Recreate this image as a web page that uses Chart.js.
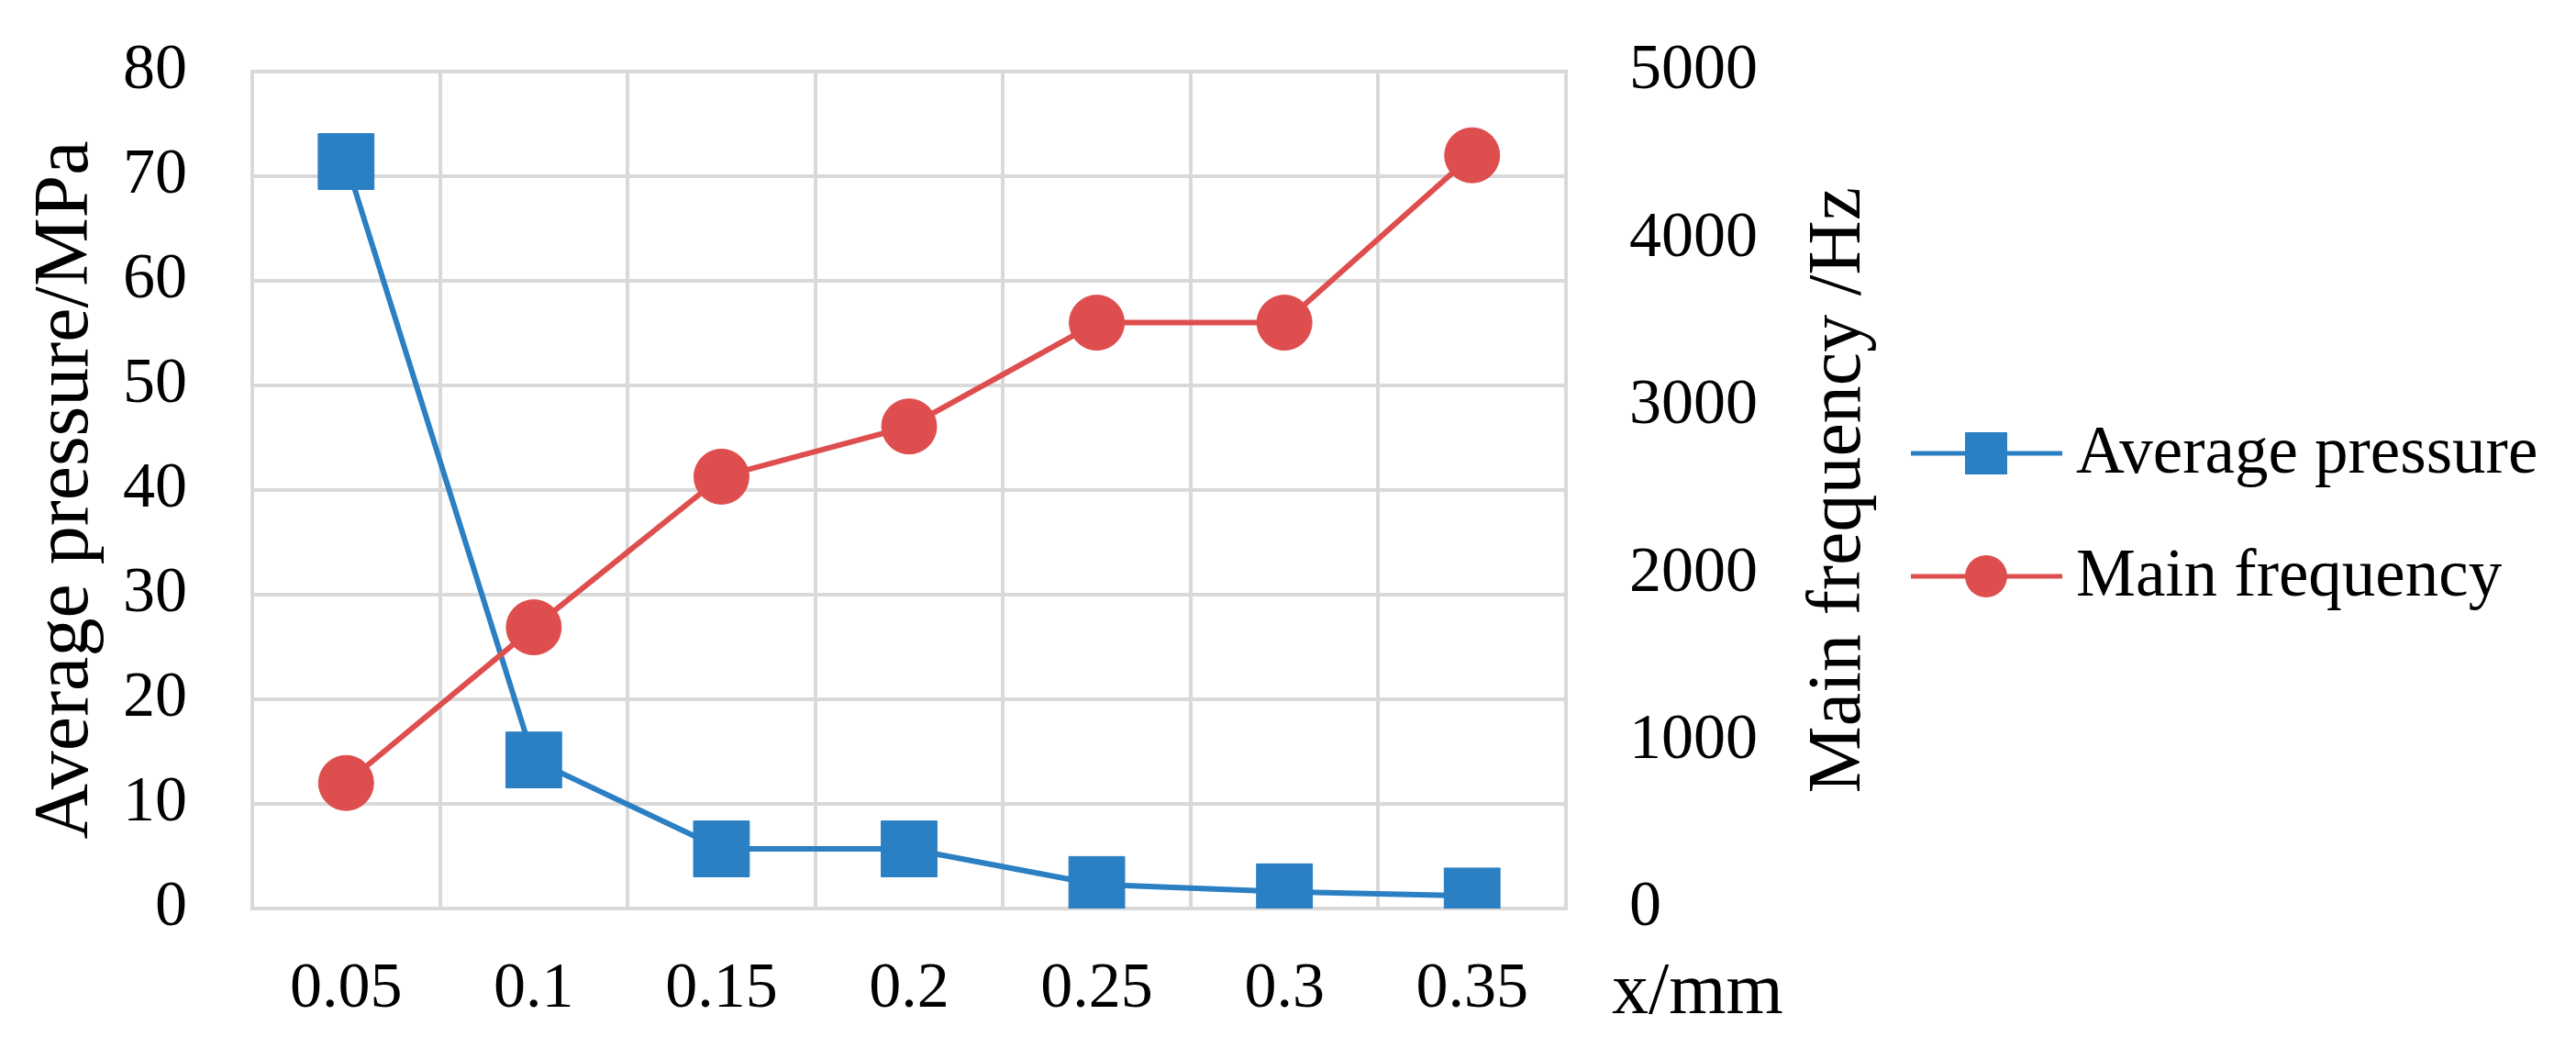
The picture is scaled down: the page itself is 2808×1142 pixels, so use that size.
<!DOCTYPE html>
<html>
<head>
<meta charset="utf-8">
<script src="https://cdn.jsdelivr.net/npm/chart.js"></script>
<style>
  html, body { margin: 0; padding: 0; background: #fff; }
  #chart { display: block; }
</style>
</head>
<body>
<canvas id="chart" width="2808" height="1142"></canvas>
<script>
// values
const xLabels = ['0.05', '0.1', '0.15', '0.2', '0.25', '0.3', '0.35'];
const pressure = [71.4, 14.2, 5.7, 5.7, 2.3, 1.6, 1.2];     // MPa
const frequency = [750, 1680, 2580, 2880, 3500, 3500, 4500]; // Hz

const BLUE = '#2b7fc3';
const RED = '#de4e4e';
const GRID = '#d9d9d9';
const SERIF = '"Liberation Serif", "Times New Roman", serif';

Chart.defaults.font.family = SERIF;
Chart.defaults.color = '#000';

// axis titles and the legend (line + marker, like the original)
const extraText = {
  id: 'extraText',
  afterDraw(chart) {
    const { ctx, chartArea } = chart;
    const midY = (chartArea.top + chartArea.bottom) / 2;
    ctx.save();
    ctx.fillStyle = '#000';
    ctx.textAlign = 'center';
    ctx.textBaseline = 'middle';

    ctx.font = '84px ' + SERIF;
    ctx.save();
    ctx.translate(73, midY);
    ctx.rotate(-Math.PI / 2);
    ctx.fillText('Average pressure/MPa', 0, 0);
    ctx.restore();

    ctx.font = '82px ' + SERIF;
    ctx.save();
    ctx.translate(chartArea.right + 298, midY);
    ctx.rotate(-Math.PI / 2);
    ctx.fillText('Main frequency /Hz', 0, 0);
    ctx.restore();

    ctx.textAlign = 'left';
    ctx.textBaseline = 'alphabetic';
    ctx.font = '80px ' + SERIF;
    ctx.fillText('x/mm', chartArea.right + 50, chartArea.bottom + 114);

    const lx = chartArea.right + 376;
    chart.data.datasets.forEach((ds, i) => {
      const y = 494 + i * 134;
      ctx.strokeStyle = ds.borderColor;
      ctx.lineWidth = 5;
      ctx.beginPath();
      ctx.moveTo(lx, y);
      ctx.lineTo(lx + 165, y);
      ctx.stroke();
      ctx.fillStyle = ds.backgroundColor;
      if (ds.pointStyle === 'rect') {
        ctx.fillRect(lx + 82 - 23, y - 23, 46, 46);
      } else {
        ctx.beginPath();
        ctx.arc(lx + 82, y, 23, 0, Math.PI * 2);
        ctx.fill();
      }
      ctx.fillStyle = '#000';
      ctx.font = '73px ' + SERIF;
      ctx.fillText(ds.label, lx + 180, y + 21);
    });
    ctx.restore();
  }
};

// keep the tick padding from pushing the plot area down
function fixVertical(width) {
  return scale => {
    scale.width = width;
    scale.paddingTop = 0;
    scale.paddingBottom = 0;
  };
}

new Chart(document.getElementById('chart').getContext('2d'), {
  type: 'line',
  data: {
    labels: xLabels,
    datasets: [
      {
        label: 'Average pressure',
        data: pressure,
        yAxisID: 'yP',
        borderColor: BLUE,
        backgroundColor: BLUE,
        borderWidth: 6,
        pointStyle: 'rect',
        pointRadius: 43,
        pointBorderWidth: 1,
        order: 1
      },
      {
        label: 'Main frequency',
        data: frequency,
        yAxisID: 'yF',
        borderColor: RED,
        backgroundColor: RED,
        borderWidth: 6,
        pointStyle: 'circle',
        pointRadius: 30,
        pointBorderWidth: 1,
        order: 0
      }
    ]
  },
  options: {
    responsive: false,
    devicePixelRatio: 1,
    animation: false,
    layout: { padding: { top: 78, left: 0, right: 0, bottom: 0 } },
    plugins: {
      legend: { display: false },
      tooltip: { enabled: false }
    },
    scales: {
      x: {
        type: 'category',
        offset: true,
        grid: { offset: true, color: GRID, lineWidth: 4, drawTicks: false },
        border: { color: GRID, width: 4 },
        ticks: { font: { size: 70 }, padding: 47, maxRotation: 0 },
        afterFit(scale) { scale.height = 152; }
      },
      yP: {
        position: 'left',
        min: 0,
        max: 80,
        grid: { color: GRID, lineWidth: 4, drawTicks: false },
        border: { color: GRID, width: 4 },
        ticks: { stepSize: 10, font: { size: 70 }, padding: 71 },
        afterFit: fixVertical(275)
      },
      yF: {
        position: 'right',
        min: 0,
        max: 5000,
        grid: { drawOnChartArea: false, drawTicks: false },
        border: { color: GRID, width: 4 },
        ticks: {
          stepSize: 1000,
          font: { size: 70 },
          padding: 69,
          callback: v => String(v)
        },
        afterFit: fixVertical(1101)
      }
    }
  },
  plugins: [extraText]
});
</script>
</body>
</html>
